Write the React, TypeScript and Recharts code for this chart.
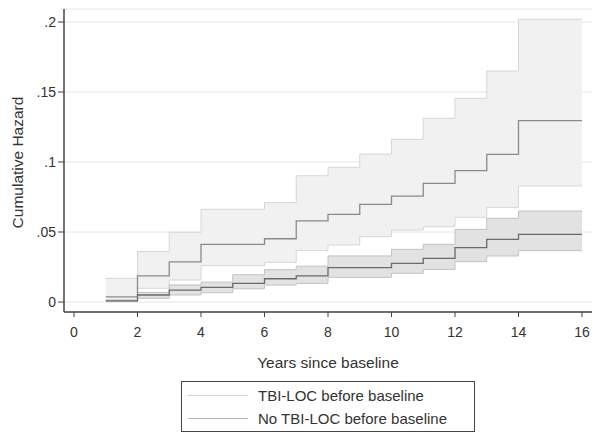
import {
  ComposedChart, Area, Line, XAxis, YAxis, CartesianGrid,
} from 'recharts';

// step start times (last point repeats to close the final step)
const years = [1, 2, 3, 4, 5, 6, 7, 8, 9, 10, 11, 12, 13, 14, 16];

// TBI-LOC before baseline
const tbiEst = [0.0036, 0.0186, 0.0286, 0.0412, 0.0412, 0.0452, 0.058, 0.0626, 0.0698, 0.0757, 0.0848, 0.0938, 0.1055, 0.1295, 0.1295];
const tbiHi = [0.0169, 0.036, 0.0498, 0.0662, 0.0662, 0.071, 0.0902, 0.0962, 0.1057, 0.1162, 0.1312, 0.1455, 0.165, 0.202, 0.202];
const tbiLo = [0.0005, 0.0098, 0.0157, 0.026, 0.026, 0.0283, 0.0367, 0.0407, 0.0467, 0.0514, 0.0538, 0.0605, 0.0676, 0.0829, 0.0829];

// No TBI-LOC before baseline
const noEst = [0.0008, 0.005, 0.0085, 0.0105, 0.0133, 0.0166, 0.0186, 0.0245, 0.0245, 0.0276, 0.0312, 0.0388, 0.0448, 0.0483, 0.0483];
const noHi = [0.0015, 0.0069, 0.0122, 0.0142, 0.0195, 0.0231, 0.0256, 0.0329, 0.0329, 0.0376, 0.0412, 0.0519, 0.0598, 0.065, 0.065];
const noLo = [0.0003, 0.0026, 0.005, 0.0066, 0.0095, 0.0121, 0.0133, 0.0176, 0.0176, 0.0205, 0.0233, 0.0288, 0.0329, 0.0367, 0.0367];

const xTicks = [0, 2, 4, 6, 8, 10, 12, 14, 16];
const yTicks = [0, 0.05, 0.1, 0.15, 0.2];

const legendItems = [
  { label: 'TBI-LOC before baseline', color: '#d2d2d2' },
  { label: 'No TBI-LOC before baseline', color: '#b4b4b4' },
];

const rows = years.map((t, i) => ({
  t,
  tbiEst: tbiEst[i],
  tbiLo: tbiLo[i],
  tbiHi: tbiHi[i],
  tbiBand: [tbiLo[i], tbiHi[i]],
  noEst: noEst[i],
  noLo: noLo[i],
  noHi: noHi[i],
  noBand: [noLo[i], noHi[i]],
}));

const FONT = '"Liberation Sans", Arial, sans-serif';
const fmtY = (v: number) => (v === 0 ? '0' : String(v).replace(/^0/, ''));

const xLabel = (props: any) => {
  const vb = props.viewBox;
  return (
    <text x={vb.x + vb.width / 2} y={368} textAnchor="middle" fontSize={15.5} fill="#333" fontFamily={FONT}>
      Years since baseline
    </text>
  );
};

const yLabel = (props: any) => {
  const vb = props.viewBox;
  const cy = vb.y + vb.height / 2 + 2;
  return (
    <text x={23} y={cy} transform={`rotate(-90 23 ${cy})`} textAnchor="middle" fontSize={15.5} fill="#333" fontFamily={FONT}>
      Cumulative Hazard
    </text>
  );
};

export default function App() {
  return (
    <div style={{ position: 'absolute', left: 0, top: 0, width: 602, height: 444, background: '#fff', fontFamily: FONT }}>
      <ComposedChart width={602} height={444} data={rows} margin={{ top: 9, right: 10, left: 0, bottom: 72 }}>
        <CartesianGrid horizontal vertical={false} stroke="#e6e6e6" />
        <XAxis
          dataKey="t"
          type="number"
          domain={[-0.315, 16.315]}
          allowDataOverflow
          ticks={xTicks}
          height={60}
          tickSize={5}
          tickMargin={10}
          tick={{ fill: '#333', fontSize: 14, fontFamily: FONT }}
          axisLine={{ stroke: '#444', strokeWidth: 1.5 }}
          tickLine={{ stroke: '#444' }}
          label={xLabel}
        />
        <XAxis xAxisId="top" orientation="top" type="number" domain={[-0.315, 16.315]} height={0} tick={false} tickLine={false} axisLine={{ stroke: '#444', strokeWidth: 1.5 }} />
        <YAxis
          type="number"
          domain={[-0.00714, 0.2093]}
          allowDataOverflow
          ticks={yTicks}
          width={64}
          tickSize={6}
          tickMargin={2}
          tickFormatter={fmtY}
          tick={{ fill: '#333', fontSize: 14, fontFamily: FONT }}
          axisLine={{ stroke: '#444', strokeWidth: 1.5 }}
          tickLine={{ stroke: '#444' }}
          label={yLabel}
        />
        <YAxis yAxisId="right" orientation="right" width={0} tick={false} tickLine={false} axisLine={{ stroke: '#444', strokeWidth: 1.5 }} />

        <Area dataKey="tbiBand" type="stepAfter" fill="#f1f1f1" fillOpacity={1} stroke="none" isAnimationActive={false} />
        <Line dataKey="tbiHi" type="stepAfter" stroke="#d6d6d6" strokeWidth={1} dot={false} isAnimationActive={false} />
        <Line dataKey="tbiLo" type="stepAfter" stroke="#d6d6d6" strokeWidth={1} dot={false} isAnimationActive={false} />

        <Area dataKey="noBand" type="stepAfter" fill="#e2e2e2" fillOpacity={1} stroke="none" isAnimationActive={false} />
        <Line dataKey="noHi" type="stepAfter" stroke="#c2c2c2" strokeWidth={1} dot={false} isAnimationActive={false} />
        <Line dataKey="noLo" type="stepAfter" stroke="#c2c2c2" strokeWidth={1} dot={false} isAnimationActive={false} />

        <Line dataKey="tbiEst" type="stepAfter" stroke="#8a8a8a" strokeWidth={1.3} dot={false} isAnimationActive={false} />
        <Line dataKey="noEst" type="stepAfter" stroke="#6a6a6a" strokeWidth={1.3} dot={false} isAnimationActive={false} />
      </ComposedChart>

      <div style={{ position: 'absolute', left: 181, top: 381, width: 292, height: 49, border: '1.5px solid #444', background: '#fff' }}>
        {legendItems.map((it, i) => (
          <div key={it.label} style={{ position: 'absolute', left: 0, top: 3 + i * 23, height: 20, display: 'flex', alignItems: 'center' }}>
            <div style={{ marginLeft: 6, width: 60, height: 1, background: it.color }} />
            <span style={{ marginLeft: 10, fontSize: 15, color: '#333', whiteSpace: 'nowrap' }}>{it.label}</span>
          </div>
        ))}
      </div>
    </div>
  );
}
